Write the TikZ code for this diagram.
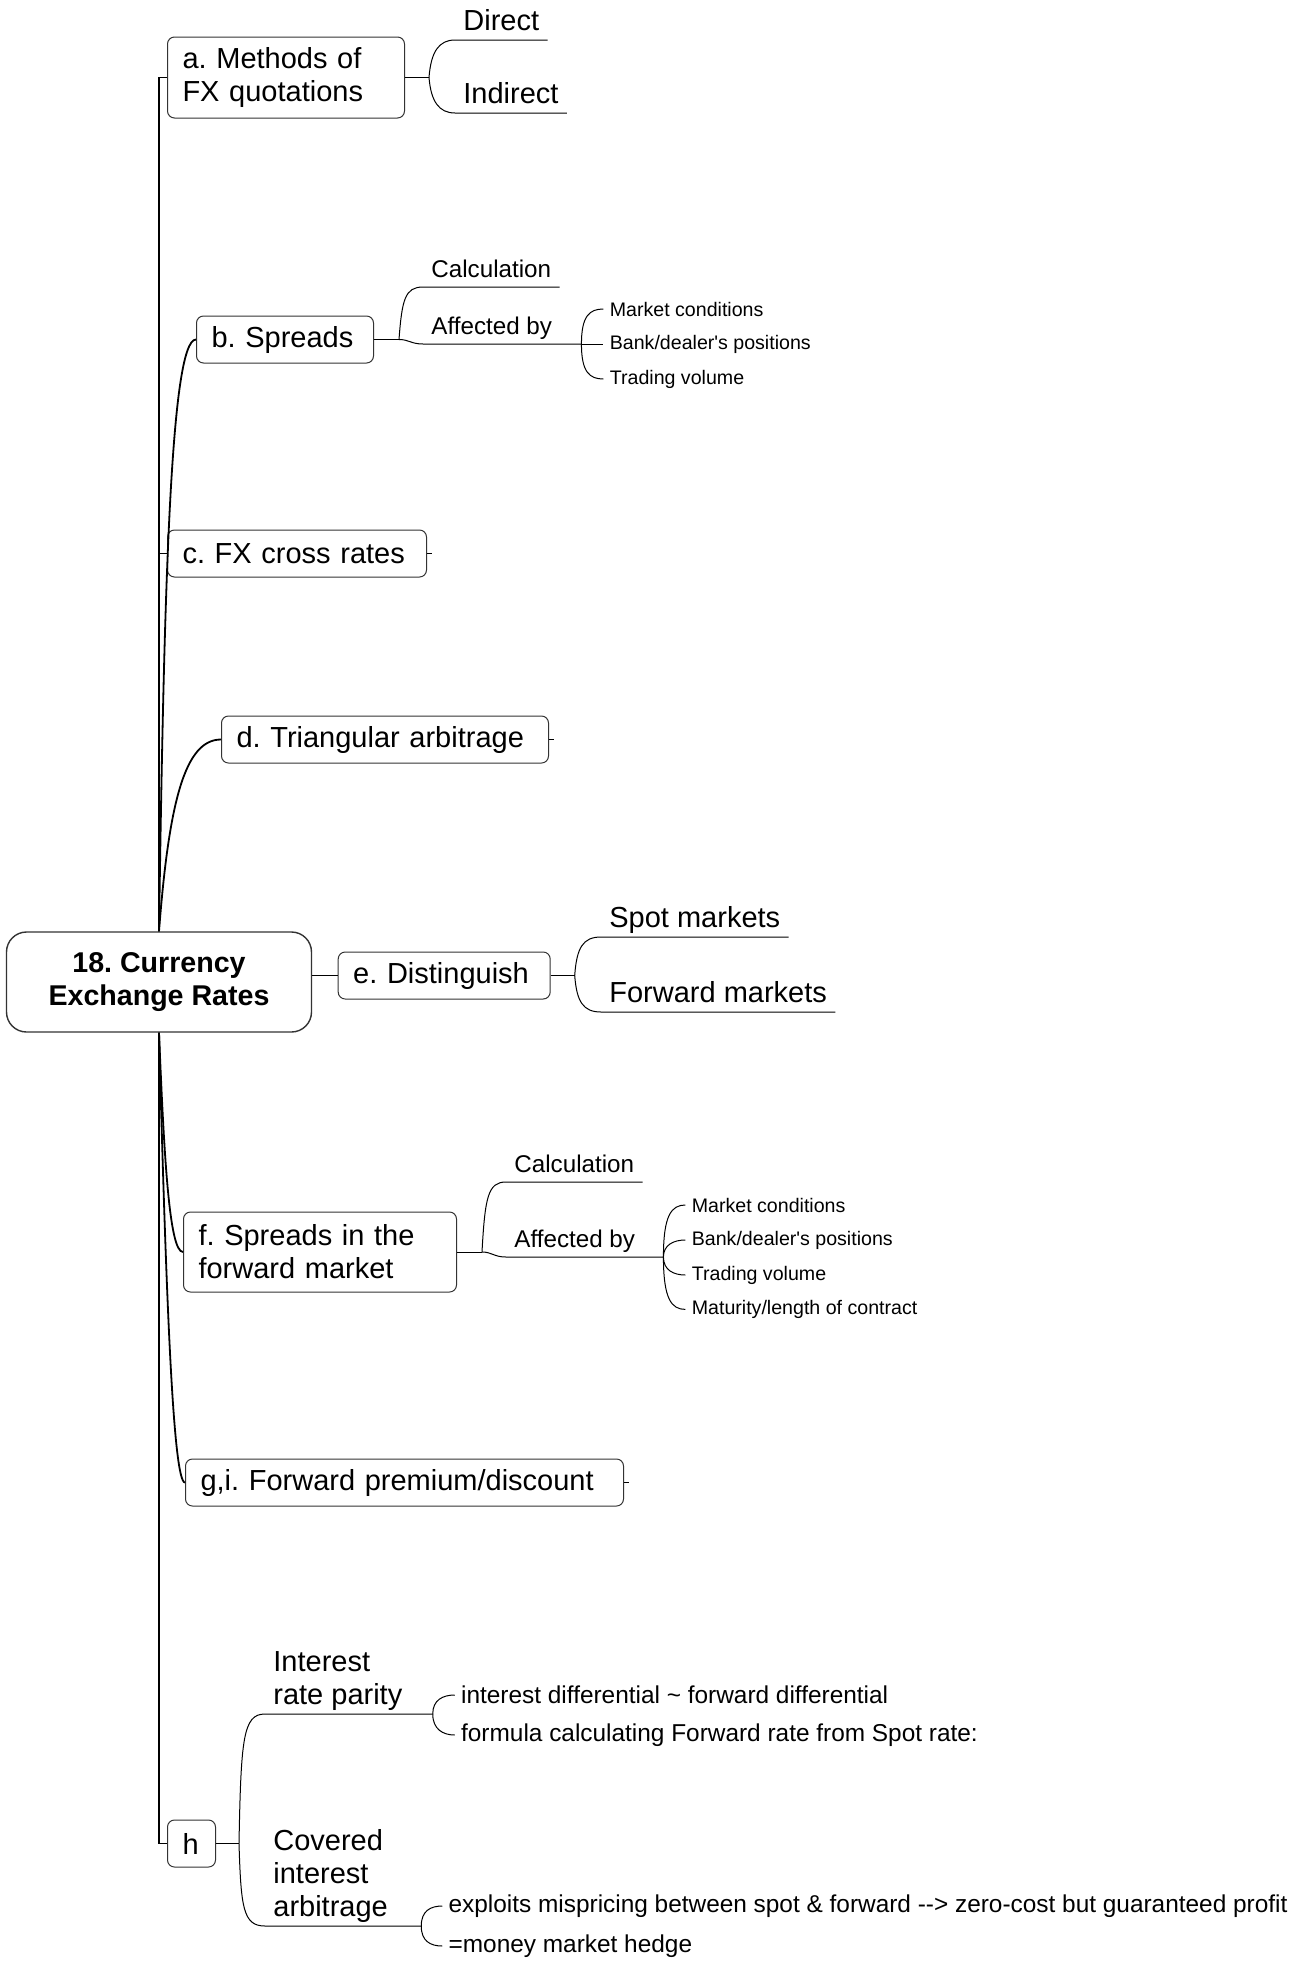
\documentclass[tikz,border=0pt]{standalone}
\usepackage{fontspec}
\setmainfont{Liberation Sans}
\frenchspacing
\usetikzlibrary{positioning}
\definecolor{mgray}{HTML}{333333}
\tikzstyle{root} = [rectangle, rounded corners=10pt, draw=mgray, line width=0.7pt, minimum width=152.5pt, minimum height=50pt, align=center, font=\fontsize{14.3}{16.5}\selectfont\bfseries]
\tikzstyle{topic} = [rectangle, rounded corners=3.5pt, draw=mgray, line width=0.5pt, anchor=west, inner xsep=7.5pt, minimum height=23.5pt, align=left, font=\fontsize{14.5}{16.5}\selectfont]
\tikzstyle{leaf} = [anchor=south west, inner xsep=4pt, inner ysep=1.5pt, text depth=3pt, align=left, font=\fontsize{14.5}{16.5}\selectfont]
\tikzstyle{midleaf} = [leaf, font=\fontsize{12.1}{14}\selectfont]
\tikzstyle{note} = [anchor=west, inner sep=3pt, font=\fontsize{9.8}{12}\selectfont]
\tikzstyle{midnote} = [note, font=\fontsize{12.2}{14}\selectfont]
\tikzstyle{limb} = [line width=0.9pt]
\tikzstyle{twig} = [line width=0.5pt]

\begin{document}
\begin{tikzpicture}[x=0.5pt, y=-0.5pt]
  \useasboundingbox (0,0) rectangle (1301,1961);
  \node (ctr) [root] at (159,982) {18. Currency\\Exchange Rates};
  \node (a) [topic, text width=103.5pt, minimum height=40.5pt] at (167,77.5) {a. Methods of\\FX quotations};
  \node (b) [topic, text width=73.5pt] at (196,339.5) {b. Spreads};
  \node (c) [topic, text width=114.5pt] at (167,553.5) {c. FX cross rates};
  \node (d) [topic, text width=148.5pt] at (221,739.5) {d. Triangular arbitrage};
  \node (e) [topic, text width=91pt, right=12.75pt of ctr, yshift=3.25pt] {e. Distinguish};
  \node (f) [topic, text width=121.5pt, minimum height=40pt] at (183,1252) {f. Spreads in the\\forward market};
  \node (g) [topic, text width=204pt] at (185,1482.5) {g,i. Forward premium/discount};
  \node (h) [topic, text width=9pt] at (167,1843.5) {h};

  \draw [limb] (ctr.north) |- (a.west);
  \draw [limb] (ctr.north) .. controls +(5,-330) and +(-26,0) .. (b.west);
  \draw [limb] (ctr.north) |- (c.west);
  \draw [limb] (ctr.north) .. controls +(10,-130) and +(-36,0) .. (d.west);
  \draw [limb] (e.west) -- (e.west -| ctr.east);
  \draw [limb] (ctr.south) .. controls +(5,120) and +(-14,0) .. (f.west);
  \draw [limb] (ctr.south) .. controls +(7,260) and +(-12,0) .. (g.west);
  \draw [limb] (ctr.south) |- (h.west);
  \draw [twig] (c.east) -- ++(5,0);
  \draw [twig] (d.east) -- ++(5,0);
  \draw [twig] (g.east) -- ++(5,0);

  \coordinate (aj) at ([xshift=12pt]a.east);
  \node (dir) [leaf] at (455,40) {Direct};
  \node (ind) [leaf] at (455,113) {Indirect};
  \draw [twig] (a) -- (aj);
  \draw [twig] (aj) .. controls +(2,-26) and +(-16,0) .. (dir.south west) -- (dir.south east);
  \draw [twig] (aj) .. controls +(2,24) and +(-16,0) .. (ind.south west) -- (ind.south east);

  \coordinate (bj) at ([xshift=12.5pt]b.east);
  \node (bcal) [midleaf] at (423,287) {Calculation};
  \node (baff) [midleaf] at (423,344) {Affected by};
  \coordinate (bj2) at ([xshift=10.5pt]baff.south east);
  \node (bm2) [note, right=11pt of bj2] {Bank/dealer\textquotesingle s positions};
  \node (bm1) [note] at ([yshift=17.5pt]bm2.west) {Market conditions};
  \node (bm3) [note] at ([yshift=-17.5pt]bm2.west) {Trading volume};
  \draw [twig] (b) -- (bj);
  \draw [twig] (bj) .. controls +(3,-40) and +(-18,0) .. (bcal.south west) -- (bcal.south east);
  \draw [twig] (bj) .. controls +(10,0) and +(-12,0) .. (baff.south west) -- (bj2);
  \draw [twig] (bj2) .. controls +(0,-28) and +(-14,0) .. (bm1.west);
  \draw [twig] (bj2) -- (bm2.west);
  \draw [twig] (bj2) .. controls +(0,28) and +(-14,0) .. (bm3.west);

  \coordinate (ej) at ([xshift=12pt]e.east);
  \node (spot) [leaf] at (601,937) {Spot markets};
  \node (fwd) [leaf] at (601,1012) {Forward markets};
  \draw [twig] (e) -- (ej);
  \draw [twig] (ej) .. controls +(2,-28) and +(-18,0) .. (spot.south west) -- (spot.south east);
  \draw [twig] (ej) .. controls +(2,26) and +(-18,0) .. (fwd.south west) -- (fwd.south east);

  \coordinate (fj) at ([xshift=12.5pt]f.east);
  \node (fcal) [midleaf] at (506,1182) {Calculation};
  \node (faff) [midleaf] at (506,1257) {Affected by};
  \coordinate (fj2) at ([xshift=10pt]faff.south east);
  \node (fm2) [note, right=11pt of fj2, yshift=8.5pt] {Bank/dealer\textquotesingle s positions};
  \node (fm1) [note] at ([yshift=17.5pt]fm2.west) {Market conditions};
  \node (fm3) [note] at ([yshift=-17.5pt]fm2.west) {Trading volume};
  \node (fm4) [note] at ([yshift=-17.2pt]fm3.west) {Maturity/length of contract};
  \draw [twig] (f) -- (fj);
  \draw [twig] (fj) .. controls +(3,-55) and +(-18,0) .. (fcal.south west) -- (fcal.south east);
  \draw [twig] (fj) .. controls +(10,0) and +(-12,0) .. (faff.south west) -- (fj2);
  \draw [twig] (fj2) .. controls +(0,-42) and +(-14,0) .. (fm1.west);
  \draw [twig] (fj2) .. controls +(0,-12) and +(-12,0) .. (fm2.west);
  \draw [twig] (fj2) .. controls +(0,13) and +(-12,0) .. (fm3.west);
  \draw [twig] (fj2) .. controls +(0,42) and +(-14,0) .. (fm4.west);

  \coordinate (hj) at ([xshift=11.5pt]h.east);
  \node (irp) [leaf] at (265,1714) {Interest\\rate parity};
  \node (cia) [leaf] at (265,1926) {Covered\\interest\\arbitrage};
  \coordinate (ij) at ([xshift=11pt]irp.south east);
  \coordinate (cj) at ([xshift=12.5pt]cia.south east);
  \node (idf) [midnote, right=11pt of ij, yshift=9.5pt] {interest differential \textasciitilde{} forward differential};
  \node (frm) [midnote] at ([yshift=-20pt]idf.west) {formula calculating Forward rate from Spot rate:};
  \node (exp) [midnote, right=10.5pt of cj, yshift=10pt] {exploits mispricing between spot \& forward -{}-{}> zero-cost but guaranteed profit};
  \node (mmh) [midnote] at ([yshift=-20pt]exp.west) {=money market hedge};
  \draw [twig] (h) -- (hj);
  \draw [twig] (hj) .. controls +(2,-105) and +(-22,0) .. (irp.south west) -- (ij);
  \draw [twig] (hj) .. controls +(2,64) and +(-22,0) .. (cia.south west) -- (cj);
  \draw [twig] (ij) .. controls +(0,-14) and +(-12,0) .. (idf.west);
  \draw [twig] (ij) .. controls +(0,15) and +(-12,0) .. (frm.west);
  \draw [twig] (cj) .. controls +(0,-15) and +(-12,0) .. (exp.west);
  \draw [twig] (cj) .. controls +(0,15) and +(-12,0) .. (mmh.west);
\end{tikzpicture}
\end{document}
